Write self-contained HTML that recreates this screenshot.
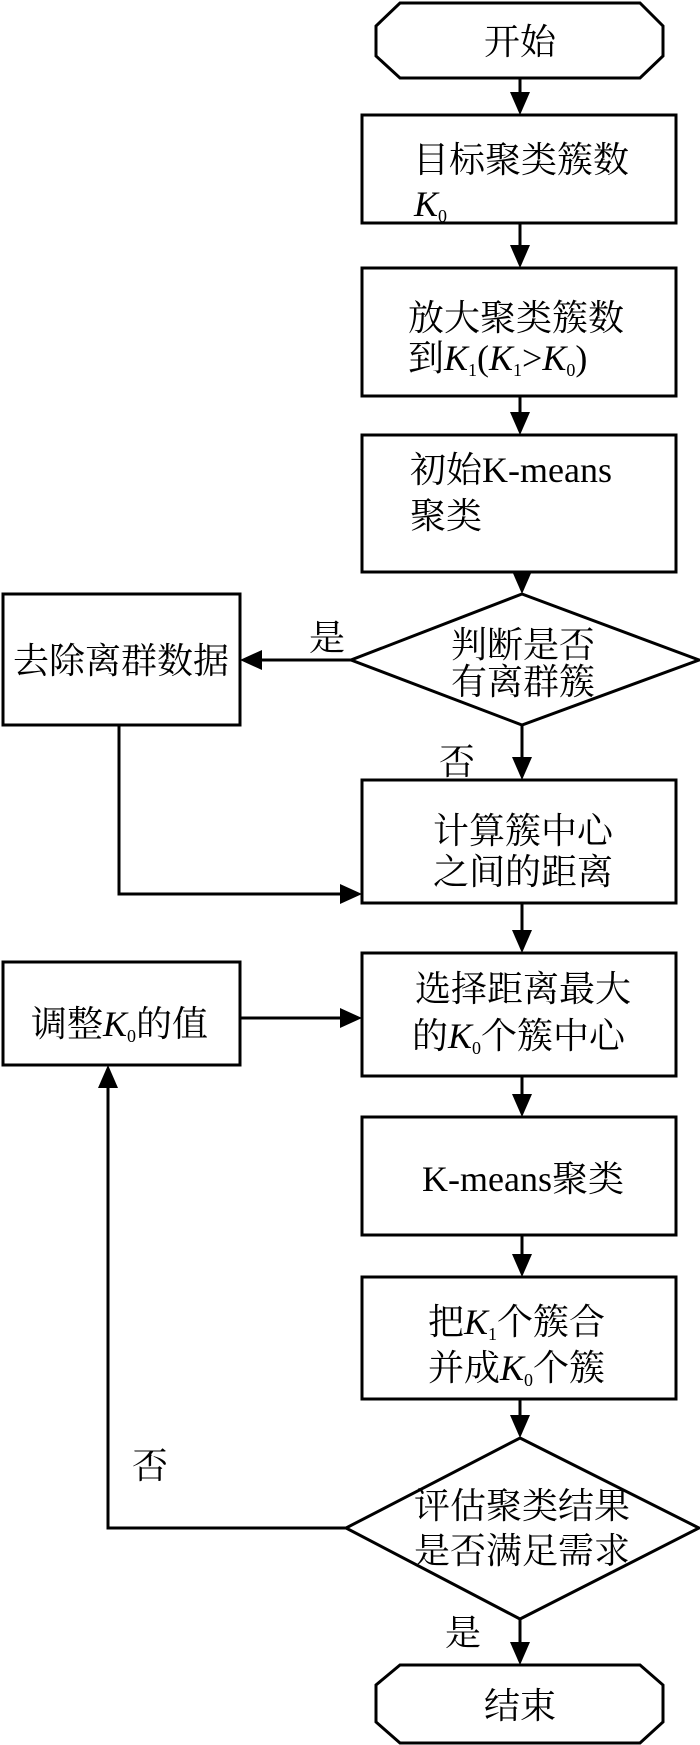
<!DOCTYPE html>
<html><head><meta charset="utf-8"><style>
html,body{margin:0;padding:0;background:#fff}
svg{display:block}
text{font-family:"Liberation Serif","Noto Serif CJK SC",serif;font-size:36px;fill:#000}
</style></head><body>
<svg width="700" height="1745" viewBox="0 0 700 1745" xmlns="http://www.w3.org/2000/svg">
<g fill="none" stroke="#000" stroke-width="3">
<path d="M400,3 H640 L663,26 V56 L640,78 H400 L376,56 V26 Z"/>
<rect x="362" y="115" width="314" height="108"/>
<rect x="362" y="268" width="314" height="128"/>
<rect x="362" y="435" width="314" height="137"/>
<path d="M522,594 L699,660 L522,725 L351,660 Z"/>
<rect x="3" y="594" width="237" height="131"/>
<rect x="362" y="780" width="314" height="123"/>
<rect x="362" y="953" width="314" height="123"/>
<rect x="3" y="962" width="237" height="103"/>
<rect x="362" y="1117" width="314" height="118"/>
<rect x="362" y="1277" width="314" height="122"/>
<path d="M520,1438 L699,1528 L520,1619 L346,1528 Z"/>
<path d="M400,1665 H640 L663,1685 V1722 L640,1743 H400 L376,1722 V1685 Z"/>
</g>
<g stroke="#000" stroke-width="3" fill="none">
<line x1="520" y1="78" x2="520" y2="92"/>
<line x1="520" y1="223" x2="520" y2="245"/>
<line x1="520" y1="396" x2="520" y2="412"/>
<line x1="522" y1="572" x2="522" y2="585"/>
<line x1="351" y1="660" x2="260" y2="660"/>
<line x1="522" y1="725" x2="522" y2="757"/>
<polyline points="119,725 119,894 340,894"/>
<line x1="522" y1="903" x2="522" y2="930"/>
<line x1="240" y1="1018" x2="340" y2="1018"/>
<line x1="522" y1="1076" x2="522" y2="1094"/>
<line x1="522" y1="1235" x2="522" y2="1254"/>
<line x1="520" y1="1399" x2="520" y2="1415"/>
<polyline points="346,1528 108,1528 108,1088"/>
<line x1="520" y1="1619" x2="520" y2="1642"/>
</g>
<g fill="#000">
<path d="M510,92 L530,92 L520,115 Z"/>
<path d="M510,245 L530,245 L520,268 Z"/>
<path d="M510,412 L530,412 L520,435 Z"/>
<path d="M512,571 L532,571 L522,594 Z"/>
<path d="M262,650 L262,670 L240,660 Z"/>
<path d="M512,757 L532,757 L522,780 Z"/>
<path d="M340,884 L340,904 L362,894 Z"/>
<path d="M512,930 L532,930 L522,953 Z"/>
<path d="M340,1008 L340,1028 L362,1018 Z"/>
<path d="M512,1094 L532,1094 L522,1117 Z"/>
<path d="M512,1254 L532,1254 L522,1277 Z"/>
<path d="M510,1415 L530,1415 L520,1438 Z"/>
<path d="M98,1088 L118,1088 L108,1065 Z"/>
<path d="M510,1642 L530,1642 L520,1665 Z"/>
</g>
<text x="520" y="54" text-anchor="middle">开始</text>
<text x="413" y="172">目标聚类簇数</text>
<text x="414" y="216" font-style="italic">K<tspan font-size="18" font-style="normal" dy="6">0</tspan></text>
<text x="408" y="330">放大聚类簇数</text>
<text x="408" y="370">到<tspan font-style="italic">K</tspan><tspan font-size="18" dy="6">1</tspan><tspan dy="-6">(</tspan><tspan font-style="italic">K</tspan><tspan font-size="18" dy="6">1</tspan><tspan dy="-6">&gt;</tspan><tspan font-style="italic">K</tspan><tspan font-size="18" dy="6">0</tspan><tspan dy="-6">)</tspan></text>
<text x="410" y="482">初始K-means</text>
<text x="410" y="528">聚类</text>
<text x="523" y="657" text-anchor="middle">判断是否</text>
<text x="523" y="694" text-anchor="middle">有离群簇</text>
<text x="121" y="673" text-anchor="middle">去除离群数据</text>
<text x="327" y="650" text-anchor="middle">是</text>
<text x="457" y="774" text-anchor="middle">否</text>
<text x="523" y="843" text-anchor="middle">计算簇中心</text>
<text x="523" y="884" text-anchor="middle">之间的距离</text>
<text x="523" y="1001" text-anchor="middle">选择距离最大</text>
<text x="412" y="1048">的<tspan font-style="italic">K</tspan><tspan font-size="18" dy="6">0</tspan><tspan dy="-6">个簇中心</tspan></text>
<text x="31" y="1036">调整<tspan font-style="italic">K</tspan><tspan font-size="18" dy="6">0</tspan><tspan dy="-6">的值</tspan></text>
<text x="523" y="1191" text-anchor="middle">K-means聚类</text>
<text x="428" y="1334">把<tspan font-style="italic">K</tspan><tspan font-size="18" dy="6">1</tspan><tspan dy="-6">个簇合</tspan></text>
<text x="428" y="1380">并成<tspan font-style="italic">K</tspan><tspan font-size="18" dy="6">0</tspan><tspan dy="-6">个簇</tspan></text>
<text x="522" y="1518" text-anchor="middle">评估聚类结果</text>
<text x="522" y="1563" text-anchor="middle">是否满足需求</text>
<text x="150" y="1478" text-anchor="middle">否</text>
<text x="463" y="1645" text-anchor="middle">是</text>
<text x="520" y="1718" text-anchor="middle">结束</text>
</svg>
</body></html>
